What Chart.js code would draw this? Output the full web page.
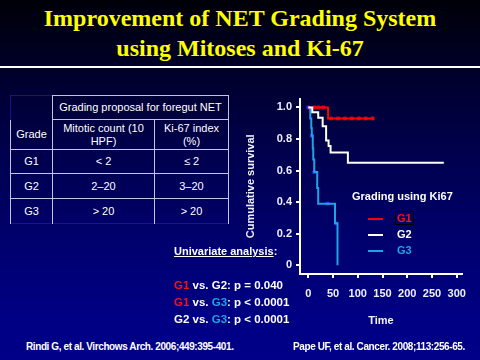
<!DOCTYPE html>
<html lang="en">
<head>
<meta charset="UTF-8">
<title>NET Grading</title>
<script src="https://cdn.jsdelivr.net/npm/chart.js"></script>
<style>
  html, body { margin: 0; padding: 0; }
  body {
    width: 480px; height: 360px; overflow: hidden; position: relative;
    background: linear-gradient(to bottom, #000008 0%, #000028 18%, #00004a 40%, #00006c 65%, #000084 88%, #000088 100%);
    font-family: "Liberation Sans", Arial, sans-serif; color: #fff;
  }
  .titulo {
    position: absolute; left: 0; top: 3px; width: 480px; text-align: center;
    font-family: "Liberation Serif", "Times New Roman", serif; font-weight: bold;
    font-size: 24px; line-height: 30px; color: #ffff00; text-shadow: 1px 1px 1px #000;
  }
  .linha { position: absolute; left: 0; top: 66px; width: 480px; height: 2px; background: #fff; }

  table.grade {
    position: absolute; left: 10px; top: 95px; border-collapse: collapse;
    font-size: 11px; color: #fff; table-layout: fixed; border: 1px solid #14148c;
  }
  table.grade td { border: 1px solid #c4c4dc; text-align: center; padding: 0; line-height: 13px; white-space: nowrap; }
  table.grade td.vazio { border-bottom: none; border-top: none; border-left: none; }
  table.grade td.baixo { border-bottom: none; }

  .bloco { position: absolute; font-weight: bold; font-size: 11px; line-height: 13px; white-space: nowrap; }
  .analise { font-size: 11.5px; }
  .vermelho { color: #ff1010; }
  .ciano { color: #1ca4e4; }
  .sub { text-decoration: underline; }

  .leg-linha { position: absolute; left: 368px; width: 15px; height: 2px; }
  .g1box { border: 1px solid #000; padding: 0 1px; margin-left: -2px; }

  .ref { position: absolute; top: 341px; font-weight: bold; font-size: 10px; line-height: 11px; white-space: nowrap; letter-spacing: -0.4px; }

  #grafico { position: absolute; left: 240px; top: 88px; }
</style>
</head>
<body>
  <div class="titulo">Improvement of NET Grading System<br>using Mitoses and Ki-67</div>
  <div class="linha"></div>

  <table class="grade">
    <colgroup>
      <col style="width:42px">
      <col style="width:102px">
      <col style="width:74px">
    </colgroup>
    <tr style="height:24px">
      <td class="vazio"></td>
      <td colspan="2">Grading proposal for foregut NET</td>
    </tr>
    <tr style="height:30px">
      <td style="border-top:none">Grade</td>
      <td>Mitotic count (10<br>HPF)</td>
      <td>Ki-67 index<br>(%)</td>
    </tr>
    <tr style="height:24px">
      <td>G1</td><td>&lt; 2</td><td>≤ 2</td>
    </tr>
    <tr style="height:25px">
      <td>G2</td><td>2–20</td><td>3–20</td>
    </tr>
    <tr style="height:25px">
      <td class="baixo">G3</td><td class="baixo">&gt; 20</td><td class="baixo">&gt; 20</td>
    </tr>
  </table>

  <canvas id="grafico" width="240" height="240"></canvas>

  <!-- legenda -->
  <div class="bloco" style="left:352px; top:190px;">Grading using Ki67</div>
  <div class="leg-linha" style="top:218px; background:#ff0000;"></div>
  <div class="leg-linha" style="top:234px; background:#ffffff;"></div>
  <div class="leg-linha" style="top:250px; background:#1ca4e4;"></div>
  <div class="bloco" style="left:397px; top:212px;"><span class="vermelho g1box">G1</span></div>
  <div class="bloco" style="left:397px; top:228px;">G2</div>
  <div class="bloco ciano" style="left:397px; top:244px;">G3</div>

  <!-- analise univariada -->
  <div class="bloco" style="left:174px; top:245px;"><span class="sub">Univariate analysis</span>:</div>
  <div class="bloco analise" style="left:174px; top:279px;"><span class="vermelho">G1</span> vs. G2: p = 0.040</div>
  <div class="bloco analise" style="left:174px; top:296px;"><span class="vermelho">G1</span> vs. <span class="ciano">G3</span>: p &lt; 0.0001</div>
  <div class="bloco analise" style="left:174px; top:313px;">G2 vs. <span class="ciano">G3</span>: p &lt; 0.0001</div>

  <div class="ref" style="left:26px;">Rindi G, et al. Virchows Arch. 2006;449:395-401.</div>
  <div class="ref" style="left:293px;">Pape UF, et al. Cancer. 2008;113:256-65.</div>

<script>
  // eixos
  var xTicks = [0, 50, 100, 150, 200, 250, 300];
  var yTicks = [0, 0.2, 0.4, 0.6, 0.8, 1.0];

  // curvas de sobrevida (Kaplan-Meier)
  var g1Tempo = [0, 40, 133];
  var g1Sobrev = [1.0, 0.93, 0.93];
  var g2Tempo = [0, 8, 20, 29, 36, 41, 45, 80, 274];
  var g2Sobrev = [1.0, 0.97, 0.935, 0.88, 0.79, 0.755, 0.715, 0.65, 0.65];
  var g3Tempo = [0, 4, 6, 7, 9, 10, 12, 18, 20, 54, 59];
  var g3Sobrev = [1.0, 0.93, 0.87, 0.82, 0.74, 0.67, 0.59, 0.49, 0.39, 0.265, 0];

  // censuras
  var g1CensTempo = [13, 21, 30, 46, 60, 74, 88, 102, 116, 130];
  var g1CensSobrev = [1.0, 1.0, 1.0, 0.93, 0.93, 0.93, 0.93, 0.93, 0.93, 0.93];
  var g3CensTempo = [0, 7, 12, 39, 56];
  var g3CensSobrev = [1.0, 0.82, 0.59, 0.39, 0.265];

  function pontos(tempo, sobrev) {
    var lista = [];
    for (var i = 0; i < tempo.length; i++) {
      lista.push({ x: tempo[i], y: sobrev[i] });
    }
    return lista;
  }

  function curva(label, tempo, sobrev, cor) {
    return {
      label: label,
      data: pontos(tempo, sobrev),
      borderColor: cor,
      borderWidth: 2,
      stepped: true,
      pointRadius: 0,
      fill: false
    };
  }

  function censura(label, tempo, sobrev, cor, borda) {
    return {
      label: label,
      data: pontos(tempo, sobrev),
      showLine: false,
      pointStyle: 'rect',
      pointRadius: 2,
      backgroundColor: cor,
      borderColor: borda,
      borderWidth: 1
    };
  }

  var fonteTick = { family: 'Liberation Sans, Arial, sans-serif', size: 11, weight: 'bold' };

  var config = {
    type: 'line',
    data: {
      datasets: [
        curva('G2', g2Tempo, g2Sobrev, '#ffffff'),
        curva('G1', g1Tempo, g1Sobrev, '#ff0000'),
        curva('G3', g3Tempo, g3Sobrev, '#1ca4e4'),
        censura('G1 cens', g1CensTempo, g1CensSobrev, '#b00028', '#e00010'),
        censura('G3 cens', g3CensTempo, g3CensSobrev, '#1a2cff', '#1a2cff')
      ]
    },
    options: {
      responsive: false,
      animation: false,
      layout: { padding: { top: 7, right: 18, left: 0, bottom: 0 } },
      plugins: {
        legend: { display: false },
        tooltip: { enabled: false }
      },
      scales: {
        x: {
          type: 'linear',
          min: -16.8,
          max: 310.7,
          afterBuildTicks: function (scale) {
            scale.ticks = xTicks.map(function (v) { return { value: v }; });
          },
          afterFit: function (scale) { scale.height = 54; },
          grid: { display: true, drawOnChartArea: false, drawTicks: true, tickLength: 4, color: '#ffffff', lineWidth: 2 },
          border: { display: true, color: '#ffffff', width: 2 },
          ticks: { color: '#f0f0ff', font: fonteTick, padding: 9, maxRotation: 0 },
          title: { display: true, text: 'Time', color: '#f0f0ff', font: fonteTick, padding: { top: 7, bottom: 0 } }
        },
        y: {
          type: 'linear',
          min: -0.056,
          max: 1.056,
          afterBuildTicks: function (scale) {
            scale.ticks = yTicks.map(function (v) { return { value: v }; });
          },
          afterFit: function (scale) { scale.width = 60; },
          grid: { display: true, drawOnChartArea: false, drawTicks: true, tickLength: 4, color: '#ffffff', lineWidth: 2 },
          border: { display: true, color: '#ffffff', width: 2 },
          ticks: {
            color: '#f0f0ff', font: fonteTick, padding: 4,
            callback: function (v) { return v === 0 ? '0' : v.toFixed(1); }
          },
          title: { display: true, text: 'Cumulative survival', color: '#f0f0ff', font: fonteTick }
        }
      }
    }
  };

  var ctx = document.getElementById('grafico').getContext('2d');
  var grafico = new Chart(ctx, config);
</script>
</body>
</html>
